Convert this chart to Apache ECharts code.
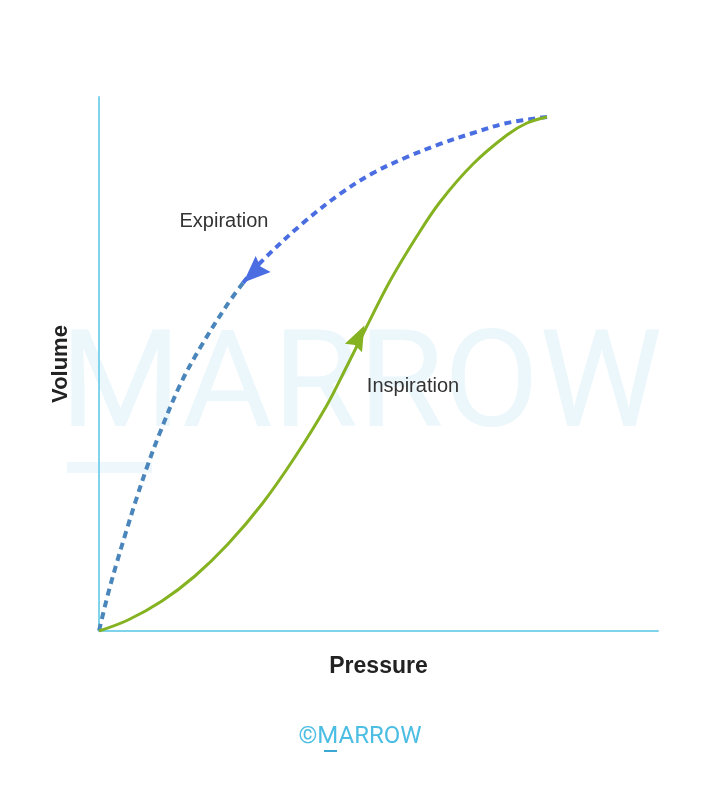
<!DOCTYPE html>
<html>
<head>
<meta charset="utf-8">
<script src="https://cdn.jsdelivr.net/npm/echarts@6/dist/echarts.min.js"></script>
<style>
html,body{margin:0;padding:0;background:#fff;}
#chart{width:720px;height:795px;}
</style>
</head>
<body>
<div id="chart"></div>
<script>
// Pressure (x) / Volume (y) on a 0-100 relative scale
const inspirationCurve = [
  [0, 0], [5.19, 2.06], [11.27, 5.62], [17.17, 10.30], [23.08, 16.29], [29.16, 23.78],
  [35.06, 32.58], [40.79, 42.32], [44.36, 49.63], [47.58, 56.37], [52.06, 65.54],
  [56.89, 73.97], [61.00, 80.34], [66.91, 87.45], [72.99, 92.88], [76.57, 95.13], [80.14, 96.25]
];
const expirationUpper = [
  [80.14, 96.25], [72.99, 95.13], [66.91, 93.26], [61.00, 91.20], [55.10, 88.76],
  [49.02, 85.77], [43.11, 81.84], [36.49, 76.40], [28.80, 68.91], [25.76, 65.17]
];
const expirationLower = [
  [25.76, 65.17], [22.90, 61.05], [18.07, 53.00], [14.49, 46.07], [10.73, 36.70],
  [8.59, 30.71], [6.62, 24.53], [4.83, 18.54], [3.22, 12.92], [1.61, 6.93], [0, 0]
];
const arrowExp = [27.6, 67.0];
const arrowInsp = [46.5, 55.1];
const labels = { x: 'Pressure', y: 'Volume', exp: 'Expiration', insp: 'Inspiration' };

const chart = echarts.init(document.getElementById('chart'), null, { renderer: 'canvas' });
const axisColor = '#7fd4ec';
const arrowPath = 'path://M0,0 L10.5,25.5 L0,22 L-10.5,25.5 Z';
const option = {
  animation: false,
  backgroundColor: '#ffffff',
  grid: { left: 99, top: 97, right: 62, bottom: 164, containLabel: false },
  graphic: [
    { type: 'text', z: -10, x: 60, y: 392, scaleX: 1.02, silent: true,
      style: { text: 'MARROW', font: '400 136px Roboto', fill: '#ecf7fc', verticalAlign: 'middle', align: 'left' } },
    { type: 'rect', z: -10, silent: true, shape: { x: 67, y: 462, width: 85, height: 11 }, style: { fill: '#eef7fb' } },
    { type: 'text', x: 224, y: 221, style: { text: labels.exp, font: '20px "Liberation Sans", Arial, sans-serif', fill: '#333333', align: 'center', verticalAlign: 'middle' } },
    { type: 'text', x: 413, y: 386, style: { text: labels.insp, font: '20px "Liberation Sans", Arial, sans-serif', fill: '#333333', align: 'center', verticalAlign: 'middle' } },
    { type: 'text', x: 360, y: 737, style: { text: '©MARROW', font: '400 24px Roboto', fill: '#4cbde3', align: 'center', verticalAlign: 'middle' } },
    { type: 'rect', shape: { x: 324, y: 750, width: 13, height: 2 }, style: { fill: '#3aa7d4' } }
  ],
  xAxis: {
    type: 'value', min: 0, max: 100,
    name: labels.x, nameLocation: 'middle', nameGap: 24,
    nameTextStyle: { fontSize: 23, fontWeight: 'bold', color: '#222222', fontFamily: '"Liberation Sans", Arial, sans-serif', verticalAlign: 'top' },
    axisLine: { show: true, lineStyle: { color: axisColor, width: 2 } },
    axisTick: { show: false }, axisLabel: { show: false }, splitLine: { show: false }
  },
  yAxis: {
    type: 'value', min: 0, max: 100,
    name: labels.y, nameLocation: 'middle', nameGap: 27, nameRotate: 90,
    nameTextStyle: { fontSize: 22, fontWeight: 'bold', color: '#222222', fontFamily: '"Liberation Sans", Arial, sans-serif' },
    axisLine: { show: true, lineStyle: { color: axisColor, width: 2 } },
    axisTick: { show: false }, axisLabel: { show: false }, splitLine: { show: false }
  },
  series: [
    { type: 'line', data: expirationLower, smooth: 0.35, symbol: 'none', z: 3,
      lineStyle: { color: '#4a86bb', width: 4, type: [7, 5], cap: 'butt' } },
    { type: 'line', data: expirationUpper, smooth: 0.35, symbol: 'none', z: 3,
      lineStyle: { color: '#4a6ee2', width: 4, type: [7, 5], cap: 'butt' } },
    { type: 'line', data: inspirationCurve, smooth: 0.35, symbol: 'none', z: 4,
      lineStyle: { color: '#85b220', width: 3 } },
    { type: 'scatter', z: 5, symbol: arrowPath, symbolKeepAspect: false,
      itemStyle: { opacity: 1 },
      data: [
        { value: arrowExp, symbolRotate: 133, symbolSize: [22, 27], itemStyle: { color: '#4a6ee2', opacity: 1 } },
        { value: arrowInsp, symbolRotate: -26, symbolSize: [19, 25], itemStyle: { color: '#85b220', opacity: 1 } }
      ] }
  ]
};
chart.setOption(option);
</script>
</body>
</html>
